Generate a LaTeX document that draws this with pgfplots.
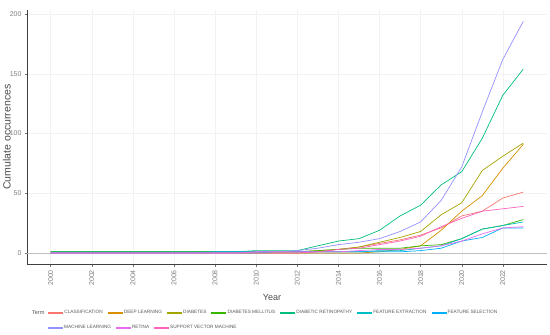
\documentclass[border=0pt]{standalone}
\usepackage{pgfplots}
\usepackage{pgfplotstable}
\pgfplotsset{compat=1.18}
\usepackage{fontspec}
\setmainfont{Liberation Sans}
\definecolor{c1}{HTML}{F8766D}
\definecolor{c2}{HTML}{D89000}
\definecolor{c3}{HTML}{A3A500}
\definecolor{c4}{HTML}{39B600}
\definecolor{c5}{HTML}{00BF7D}
\definecolor{c6}{HTML}{00BFC4}
\definecolor{c7}{HTML}{00B0F6}
\definecolor{c8}{HTML}{9590FF}
\definecolor{c9}{HTML}{E76BF3}
\definecolor{c10}{HTML}{FF62BC}
\newcommand{\lt}[1]{\textcolor{black!65}{#1}}
\pgfplotstableread{
year CL DL DB DM DR FE FS ML RT SVM
2000 0 0 1 1 1 0 0 0 0 0
2001 0 0 1 1 1 0 0 0 0 0
2002 0 0 1 1 1 0 0 0 0 0
2003 0 0 1 1 1 0 0 0 0 0
2004 0 0 1 1 1 0 0 0 0 0
2005 0 0 1 1 1 0 0 0 0 0
2006 0 0 1 1 1 0 0 0 0 0
2007 0 0 1 1 1 0 0 0 0 0
2008 0 0 1 1 1 0 1 0 0 0
2009 0 0 1 1 1 0 1 0 0 0
2010 0 0 1 1 2 0 1 1 1 0
2011 0 0 1 1 2 1 1 1 1 0
2012 0 0 1 1 2 1 1 2 1 0
2013 1 0 2 2 6 1 1 4 1 1
2014 3 0 3 3 10 1 1 7 1 3
2015 5 0 5 4 12 1 1 9 2 4
2016 8 1 9 4 19 2 1 12 3 7
2017 11 3 13 4 31 2 1 18 3 10
2018 15 6 18 6 40 4 2 26 4 14
2019 21 19 32 7 57 6 4 44 6 22
2020 31 35 42 12 68 12 10 72 10 29
2021 35 48 69 20 96 20 13 118 16 35
2022 46 71 81 23 132 23 21 162 21 37
2023 51 91 92 28 154 26 21 194 22 39
}\datatable
\pgfplotsset{
  legstyle/.style={
    legend image code/.code={\fill[##1] (0pt,-0.3pt) rectangle (14pt,0.3pt);},
    legend style={font=\fontsize{4.7}{5}\selectfont, draw=none, fill=none,
      inner sep=0pt, column sep=0pt, nodes={inner xsep=1pt, inner ysep=0.5pt},
      /tikz/every odd column/.append style={column sep=0.5pt},
      /tikz/every even column/.append style={column sep=4pt}},
    legend cell align=left,
  }
}
\begin{document}
\begin{tikzpicture}
\useasboundingbox (0,0) rectangle (550pt,335pt);
\begin{axis}[
  at={(27pt,70.4pt)}, anchor=south west, scale only axis,
  width=520pt, height=255pt,
  xmin=1998.85, xmax=2024.15, ymin=-9.7, ymax=203.7,
  axis x line*=bottom, axis y line*=left,
  axis line style={-, draw=black!75, line width=0.7pt},
  xtick={2000,2002,...,2022}, ytick={0,50,100,150,200},
  grid=major, major grid style={draw=black!5, line width=0.4pt},
  tick align=outside, major tick length=2pt,
  tick style={draw=black!55, line width=0.4pt},
  ticklabel style={font=\fontsize{7}{8}\selectfont, text=black!50},
  xticklabel style={rotate=90, anchor=east},
  /pgf/number format/assume math mode=true,
  /pgf/number format/1000 sep={},
  xlabel={Year}, ylabel={Cumulate occurrences},
  label style={text=black!70},
  xlabel style={font=\fontsize{9}{11}\selectfont, at={(axis description cs:0.471,-0.127)}, anchor=center},
  ylabel style={font=\fontsize{10.5}{12}\selectfont, at={(axis description cs:-0.0385,0.5)}, anchor=center},
  legstyle, legend columns=7,
  legend style={at={(0.0404,-0.19)}, anchor=west},
]
\addplot[black!25, line width=0.5pt, forget plot] coordinates {(1998.85,0) (2024.15,0)};
\addplot[c1, line width=0.7pt] table[x=year, y=CL] {\datatable};
\addlegendentry{\lt{CLASSIFICATION}}
\addplot[c2, line width=0.7pt] table[x=year, y=DL] {\datatable};
\addlegendentry{\lt{DEEP LEARNING}}
\addplot[c3, line width=0.7pt] table[x=year, y=DB] {\datatable};
\addlegendentry{\lt{DIABETES}}
\addplot[c4, line width=0.7pt] table[x=year, y=DM] {\datatable};
\addlegendentry{\lt{DIABETES MELLITUS}}
\addplot[c5, line width=0.7pt] table[x=year, y=DR] {\datatable};
\addlegendentry{\lt{DIABETIC RETINOPATHY}}
\addplot[c6, line width=0.7pt] table[x=year, y=FE] {\datatable};
\addlegendentry{\lt{FEATURE EXTRACTION}}
\addplot[c7, line width=0.7pt] table[x=year, y=FS] {\datatable};
\addlegendentry{\lt{FEATURE SELECTION}}
\addplot[c8, line width=0.7pt, forget plot] table[x=year, y=ML] {\datatable};
\addplot[c9, line width=0.7pt, forget plot] table[x=year, y=RT] {\datatable};
\addplot[c10, line width=0.7pt, forget plot] table[x=year, y=SVM] {\datatable};
\end{axis}
\begin{axis}[
  at={(27pt,70.4pt)}, anchor=south west, scale only axis,
  width=520pt, height=255pt, hide axis,
  xmin=0, xmax=1, ymin=0, ymax=1,
  legstyle, legend columns=3,
  legend style={at={(0.0404,-0.2475)}, anchor=west},
]
\addlegendimage{c8}
\addlegendentry{\lt{MACHINE LEARNING}}
\addlegendimage{c9}
\addlegendentry{\lt{RETINA}}
\addlegendimage{c10}
\addlegendentry{\lt{SUPPORT VECTOR MACHINE}}
\end{axis}
\node[anchor=west, font=\fontsize{5.6}{6}\selectfont, text=black!65] at (28.5pt,22pt) {Term};
\end{tikzpicture}
\end{document}
